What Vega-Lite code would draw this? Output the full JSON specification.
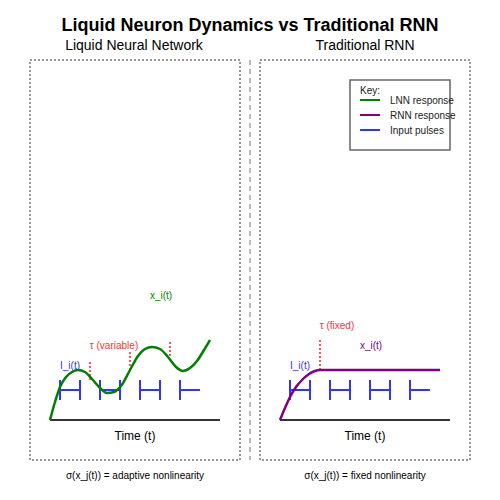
{
  "$schema": "https://vega.github.io/schema/vega-lite/v6.json",
  "autosize": {"type": "fit", "contains": "padding"},
  "width": 500,
  "height": 500,
  "padding": 0,
  "background": "white",
  "config": {"view": {"stroke": null}, "font": "Liberation Sans"},
  "datasets": {
    "boxes": [
      {"x": 30, "x2": 240, "y": 60, "y2": 460, "g": "panel"},
      {"x": 260, "x2": 470, "y": 60, "y2": 460, "g": "panel"},
      {"x": 350, "x2": 450, "y": 80, "y2": 150, "g": "key"}
    ],
    "segs": [
      {"x": 250, "y": 60, "x2": 250, "y2": 460, "g": "divider"},
      {"x": 50, "y": 420, "x2": 220, "y2": 420, "g": "axis"},
      {"x": 280, "y": 420, "x2": 450, "y2": 420, "g": "axis"},
      {"x": 60, "y": 380, "x2": 60, "y2": 400, "g": "pulse"},
      {"x": 80, "y": 380, "x2": 80, "y2": 400, "g": "pulse"},
      {"x": 60, "y": 390, "x2": 80, "y2": 390, "g": "pulse"},
      {"x": 100, "y": 380, "x2": 100, "y2": 400, "g": "pulse"},
      {"x": 120, "y": 380, "x2": 120, "y2": 400, "g": "pulse"},
      {"x": 100, "y": 390, "x2": 120, "y2": 390, "g": "pulse"},
      {"x": 140, "y": 380, "x2": 140, "y2": 400, "g": "pulse"},
      {"x": 160, "y": 380, "x2": 160, "y2": 400, "g": "pulse"},
      {"x": 140, "y": 390, "x2": 160, "y2": 390, "g": "pulse"},
      {"x": 180, "y": 380, "x2": 180, "y2": 400, "g": "pulse"},
      {"x": 180, "y": 390, "x2": 200, "y2": 390, "g": "pulse"},
      {"x": 290, "y": 380, "x2": 290, "y2": 400, "g": "pulse"},
      {"x": 310, "y": 380, "x2": 310, "y2": 400, "g": "pulse"},
      {"x": 290, "y": 390, "x2": 310, "y2": 390, "g": "pulse"},
      {"x": 330, "y": 380, "x2": 330, "y2": 400, "g": "pulse"},
      {"x": 350, "y": 380, "x2": 350, "y2": 400, "g": "pulse"},
      {"x": 330, "y": 390, "x2": 350, "y2": 390, "g": "pulse"},
      {"x": 370, "y": 380, "x2": 370, "y2": 400, "g": "pulse"},
      {"x": 390, "y": 380, "x2": 390, "y2": 400, "g": "pulse"},
      {"x": 370, "y": 390, "x2": 390, "y2": 390, "g": "pulse"},
      {"x": 410, "y": 380, "x2": 410, "y2": 400, "g": "pulse"},
      {"x": 410, "y": 390, "x2": 430, "y2": 390, "g": "pulse"},
      {"x": 360, "y": 130, "x2": 380, "y2": 130, "g": "pulse"},
      {"x": 90, "y": 362, "x2": 90, "y2": 380, "g": "tau"},
      {"x": 130, "y": 352, "x2": 130, "y2": 370, "g": "tau"},
      {"x": 170, "y": 342, "x2": 170, "y2": 358, "g": "tau"},
      {"x": 320, "y": 340, "x2": 320, "y2": 370, "g": "tau"},
      {"x": 360, "y": 100, "x2": 380, "y2": 100, "g": "keyLnn"},
      {"x": 360, "y": 115, "x2": 380, "y2": 115, "g": "keyRnn"}
    ],
    "lnn": [
      {"x": 50, "y": 420}, {"x": 55, "y": 402}, {"x": 60, "y": 387},
      {"x": 66, "y": 377}, {"x": 72, "y": 372}, {"x": 78, "y": 370},
      {"x": 85, "y": 372}, {"x": 92, "y": 379}, {"x": 100, "y": 388},
      {"x": 107, "y": 393}, {"x": 114, "y": 392}, {"x": 121, "y": 386},
      {"x": 130, "y": 370}, {"x": 138, "y": 356}, {"x": 145, "y": 349},
      {"x": 152, "y": 347}, {"x": 160, "y": 349}, {"x": 168, "y": 357},
      {"x": 176, "y": 367}, {"x": 183, "y": 371}, {"x": 190, "y": 368},
      {"x": 197, "y": 361}, {"x": 204, "y": 350}, {"x": 210, "y": 340}
    ],
    "rnn": [
      {"x": 280, "y": 420}, {"x": 285, "y": 408}, {"x": 290, "y": 397},
      {"x": 296, "y": 387}, {"x": 302, "y": 380}, {"x": 309, "y": 374},
      {"x": 315, "y": 371}, {"x": 320, "y": 370}, {"x": 440, "y": 370}
    ],
    "labels": [
      {"x": 250, "y": 26, "t": "Liquid Neuron Dynamics vs Traditional RNN", "g": "title"},
      {"x": 134, "y": 46, "t": "Liquid Neural Network", "g": "sub"},
      {"x": 365, "y": 46, "t": "Traditional RNN", "g": "sub"},
      {"x": 135, "y": 436, "t": "Time (t)", "g": "time"},
      {"x": 365, "y": 436, "t": "Time (t)", "g": "time"},
      {"x": 135, "y": 476, "t": "σ(x_j(t)) = adaptive nonlinearity", "g": "foot"},
      {"x": 365, "y": 476, "t": "σ(x_j(t)) = fixed nonlinearity", "g": "foot"},
      {"x": 70, "y": 366, "t": "I_i(t)", "g": "input"},
      {"x": 300, "y": 366, "t": "I_i(t)", "g": "input"},
      {"x": 114, "y": 346, "t": "τ (variable)", "g": "tau"},
      {"x": 337, "y": 326, "t": "τ (fixed)", "g": "tau"},
      {"x": 161, "y": 296, "t": "x_i(t)", "g": "lnn"},
      {"x": 371, "y": 346, "t": "x_i(t)", "g": "rnn"},
      {"x": 360, "y": 91, "t": "Key:", "g": "key"},
      {"x": 390, "y": 101, "t": "LNN response", "g": "key"},
      {"x": 390, "y": 116, "t": "RNN response", "g": "key"},
      {"x": 390, "y": 131, "t": "Input pulses", "g": "key"}
    ]
  },
  "encoding": {
    "x": {"field": "x", "type": "quantitative", "scale": {"domain": [0, 500]}, "axis": null},
    "y": {"field": "y", "type": "quantitative", "scale": {"domain": [0, 500], "reverse": true}, "axis": null}
  },
  "layer": [
    {
      "data": {"name": "boxes"},
      "transform": [{"filter": "datum.g == 'panel'"}],
      "mark": {"type": "rect", "fill": null, "fillOpacity": 0, "stroke": "#777", "strokeWidth": 1.5, "strokeDash": [2, 2]},
      "encoding": {"x2": {"field": "x2"}, "y2": {"field": "y2"}}
    },
    {
      "data": {"name": "boxes"},
      "transform": [{"filter": "datum.g == 'key'"}],
      "mark": {"type": "rect", "fill": "white", "stroke": "#666", "strokeWidth": 1.5},
      "encoding": {"x2": {"field": "x2"}, "y2": {"field": "y2"}}
    },
    {
      "data": {"name": "segs"},
      "transform": [{"filter": "datum.g == 'divider'"}],
      "mark": {"type": "rule", "stroke": "#bbb", "strokeWidth": 2, "strokeDash": [5, 4]},
      "encoding": {"x2": {"field": "x2"}, "y2": {"field": "y2"}}
    },
    {
      "data": {"name": "segs"},
      "transform": [{"filter": "datum.g == 'axis'"}],
      "mark": {"type": "rule", "stroke": "#333", "strokeWidth": 2},
      "encoding": {"x2": {"field": "x2"}, "y2": {"field": "y2"}}
    },
    {
      "data": {"name": "segs"},
      "transform": [{"filter": "datum.g == 'pulse'"}],
      "mark": {"type": "rule", "stroke": "#3333ff", "strokeWidth": 2},
      "encoding": {"x2": {"field": "x2"}, "y2": {"field": "y2"}}
    },
    {
      "data": {"name": "segs"},
      "transform": [{"filter": "datum.g == 'tau'"}],
      "mark": {"type": "rule", "stroke": "#ff5555", "strokeWidth": 2, "strokeDash": [2, 2]},
      "encoding": {"x2": {"field": "x2"}, "y2": {"field": "y2"}}
    },
    {
      "data": {"name": "segs"},
      "transform": [{"filter": "datum.g == 'keyLnn'"}],
      "mark": {"type": "rule", "stroke": "green", "strokeWidth": 2},
      "encoding": {"x2": {"field": "x2"}, "y2": {"field": "y2"}}
    },
    {
      "data": {"name": "segs"},
      "transform": [{"filter": "datum.g == 'keyRnn'"}],
      "mark": {"type": "rule", "stroke": "purple", "strokeWidth": 2},
      "encoding": {"x2": {"field": "x2"}, "y2": {"field": "y2"}}
    },
    {
      "data": {"name": "lnn"},
      "mark": {"type": "line", "stroke": "green", "strokeWidth": 2.5, "interpolate": "monotone"},
      "encoding": {}
    },
    {
      "data": {"name": "rnn"},
      "mark": {"type": "line", "stroke": "purple", "strokeWidth": 2.5, "interpolate": "monotone"},
      "encoding": {}
    },
    {
      "data": {"name": "labels"},
      "transform": [{"filter": "datum.g == 'title'"}],
      "mark": {"type": "text", "fontSize": 18, "fontWeight": "bold", "color": "black", "baseline": "middle"},
      "encoding": {"text": {"field": "t"}}
    },
    {
      "data": {"name": "labels"},
      "transform": [{"filter": "datum.g == 'sub'"}],
      "mark": {"type": "text", "fontSize": 14, "color": "black", "baseline": "middle"},
      "encoding": {"text": {"field": "t"}}
    },
    {
      "data": {"name": "labels"},
      "transform": [{"filter": "datum.g == 'time'"}],
      "mark": {"type": "text", "fontSize": 12, "color": "black", "baseline": "middle"},
      "encoding": {"text": {"field": "t"}}
    },
    {
      "data": {"name": "labels"},
      "transform": [{"filter": "datum.g == 'foot'"}],
      "mark": {"type": "text", "fontSize": 10, "color": "black", "baseline": "middle"},
      "encoding": {"text": {"field": "t"}}
    },
    {
      "data": {"name": "labels"},
      "transform": [{"filter": "datum.g == 'input'"}],
      "mark": {"type": "text", "fontSize": 10, "color": "#3333ff", "baseline": "middle"},
      "encoding": {"text": {"field": "t"}}
    },
    {
      "data": {"name": "labels"},
      "transform": [{"filter": "datum.g == 'tau'"}],
      "mark": {"type": "text", "fontSize": 10, "color": "#ff3333", "baseline": "middle"},
      "encoding": {"text": {"field": "t"}}
    },
    {
      "data": {"name": "labels"},
      "transform": [{"filter": "datum.g == 'lnn'"}],
      "mark": {"type": "text", "fontSize": 10, "color": "green", "baseline": "middle"},
      "encoding": {"text": {"field": "t"}}
    },
    {
      "data": {"name": "labels"},
      "transform": [{"filter": "datum.g == 'rnn'"}],
      "mark": {"type": "text", "fontSize": 10, "color": "purple", "baseline": "middle"},
      "encoding": {"text": {"field": "t"}}
    },
    {
      "data": {"name": "labels"},
      "transform": [{"filter": "datum.g == 'key'"}],
      "mark": {"type": "text", "fontSize": 10, "color": "#222", "align": "left", "baseline": "middle"},
      "encoding": {"text": {"field": "t"}}
    }
  ]
}
